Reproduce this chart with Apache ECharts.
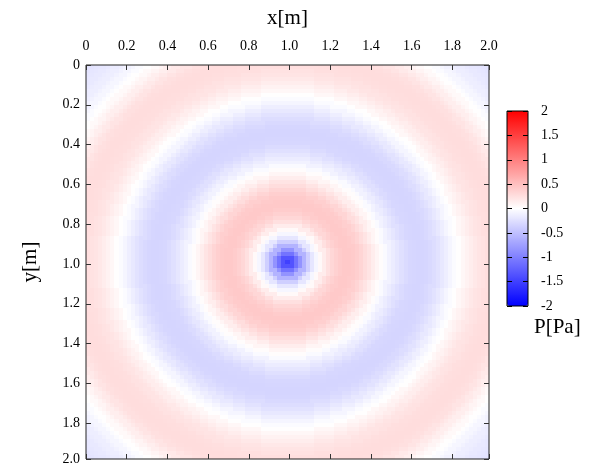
<!DOCTYPE html>
<html>
<head>
  <meta charset="utf-8">
  <title>P[Pa]</title>
  <script src="https://cdn.jsdelivr.net/npm/echarts@6/dist/echarts.min.js"></script>
  <style>
    html, body { margin: 0; padding: 0; background: #fff; }
  </style>
</head>
<body>
  <div id="main" style="width: 596px; height: 466px;"></div>

  <script>
    // tick labels (the last one sits on the edge of the field, 1.98 m)
    const xTicks = ['0', '0.2', '0.4', '0.6', '0.8', '1.0', '1.2', '1.4', '1.6', '1.8', '2.0'];
    const yTicks = ['0', '0.2', '0.4', '0.6', '0.8', '1.0', '1.2', '1.4', '1.6', '1.8', '2.0'];
    const cbTicks = ['-2', '-1.5', '-1', '-0.5', '0', '0.5', '1', '1.5', '2'];

    // grid of the field: cells 0.02 m wide, 0 .. 1.98 m
    const cellSize = 0.02;
    const cellCount = 99;
    const source = [0.99, 0.99];

    const radius = [
      0.00, 0.02, 0.04, 0.06, 0.08, 0.10, 0.12, 0.14, 0.16, 0.18,
      0.20, 0.22, 0.24, 0.26, 0.28, 0.30, 0.32, 0.34, 0.36, 0.38,
      0.40, 0.42, 0.44, 0.46, 0.48, 0.50, 0.52, 0.54, 0.56, 0.58,
      0.60, 0.62, 0.64, 0.66, 0.68, 0.70, 0.72, 0.74, 0.76, 0.78,
      0.80, 0.82, 0.84, 0.86, 0.88, 0.90, 0.92, 0.94, 0.96, 0.98,
      1.00, 1.02, 1.04, 1.06, 1.08, 1.10, 1.12, 1.14, 1.16, 1.18,
      1.20, 1.22, 1.24, 1.26, 1.28, 1.30, 1.32, 1.34, 1.36, 1.38, 1.40
    ];
    const pressure = [
      -1.50, -1.35, -1.10, -0.85, -0.60, -0.38, -0.20, -0.07, 0.05, 0.15,
      0.24, 0.31, 0.36, 0.40, 0.42, 0.42, 0.41, 0.38, 0.33, 0.27,
      0.21, 0.14, 0.08, 0.02, -0.04, -0.10, -0.15, -0.20, -0.24, -0.28,
      -0.31, -0.32, -0.33, -0.33, -0.32, -0.30, -0.27, -0.23, -0.18, -0.13,
      -0.08, -0.03, 0.01, 0.06, 0.10, 0.14, 0.18, 0.21, 0.23, 0.25,
      0.26, 0.27, 0.27, 0.26, 0.24, 0.21, 0.17, 0.13, 0.09, 0.05,
      0.01, -0.03, -0.07, -0.10, -0.13, -0.15, -0.17, -0.19, -0.20, -0.21, -0.21
    ];

    function pressureAt(r) {
      // nearest value of the read profile
      let best = 0;
      for (let k = 1; k < radius.length; k++) {
        if (Math.abs(radius[k] - r) < Math.abs(radius[best] - r)) best = k;
      }
      return pressure[best];
    }

    const cells = [];
    for (let i = 0; i < cellCount; i++) {
      for (let j = 0; j < cellCount; j++) {
        const x = i * cellSize, y = j * cellSize;
        const dx = x + cellSize / 2 - source[0];
        const dy = y + cellSize / 2 - source[1];
        cells.push([x, y, pressureAt(Math.sqrt(dx * dx + dy * dy))]);
      }
    }

    const font = '"Liberation Serif", "DejaVu Serif", serif';
    const plotMax = cellCount * cellSize;
    const labelStyle = { fontSize: 14, color: '#000', fontFamily: font };
    const nameStyle = { fontSize: 21, color: '#000', fontFamily: font };

    const fieldAxis = (pos, labels, margin, extra) => Object.assign({
      type: 'value', gridIndex: 0, position: pos, min: 0, max: plotMax, interval: 0.2,
      axisLine: { show: false, onZero: false }, splitLine: { show: false },
      axisLabel: labels ? Object.assign({ margin: margin, formatter: (v, i) => labels[i] }, labelStyle) : { show: false },
      axisTick: { show: true, inside: true, length: 5, lineStyle: { color: '#333' } },
      z: 10
    }, extra || {});

    const chart = echarts.init(document.getElementById('main'));
    const option = {
      animation: false,
      textStyle: { fontFamily: font },
      grid: [
        { left: 86, top: 65, width: 403, height: 394, outerBoundsMode: 'none', show: true, borderColor: '#222', borderWidth: 1, backgroundColor: 'transparent', z: 10 },
        { left: 507, top: 111, width: 21, height: 195, outerBoundsMode: 'none', show: true, borderColor: '#000', borderWidth: 1, backgroundColor: 'transparent', z: 10 }
      ],
      xAxis: [
        fieldAxis('bottom', null),
        fieldAxis('top', xTicks, 12, {
          name: 'x[m]', nameLocation: 'middle', nameGap: 36, nameTextStyle: nameStyle
        }),
        { type: 'value', gridIndex: 1, show: false, min: 0, max: 1, axisLine: { onZero: false } }
      ],
      yAxis: [
        fieldAxis('left', yTicks, 6, {
          inverse: true, name: 'y[m]', nameLocation: 'middle', nameGap: 45, nameRotate: 90, nameTextStyle: nameStyle
        }),
        fieldAxis('right', null, 0, { inverse: true }),
        {
          type: 'value', gridIndex: 1, position: 'left', min: -2, max: 2, interval: 0.5,
          axisLine: { show: false, onZero: false }, splitLine: { show: false }, axisLabel: { show: false },
          axisTick: { show: true, inside: true, length: 5, lineStyle: { color: '#000' } }, z: 10
        },
        {
          type: 'value', gridIndex: 1, position: 'right', min: -2, max: 2, interval: 0.5,
          axisLine: { show: false, onZero: false }, splitLine: { show: false },
          axisTick: { show: true, inside: true, length: 5, lineStyle: { color: '#000' } },
          axisLabel: Object.assign({ margin: 13, formatter: (v, i) => cbTicks[i] }, labelStyle),
          z: 10
        }
      ],
      visualMap: {
        type: 'continuous', seriesIndex: 0, dimension: 2, min: -2, max: 2,
        calculable: false, showLabel: false, text: null,
        left: 507, top: 111, itemWidth: 21, itemHeight: 195, padding: 0,
        inRange: { color: ['#0000ff', '#ffffff', '#ff0000'] }
      },
      graphic: [
        { type: 'text', left: 534, top: 317, style: { text: 'P[Pa]', fontSize: 21, fontFamily: font, fill: '#000' } }
      ],
      series: [{
        type: 'custom',
        xAxisIndex: 0, yAxisIndex: 0,
        encode: { x: 0, y: 1 },
        clip: true,
        data: cells,
        renderItem: (params, api) => {
          const p1 = api.coord([api.value(0), api.value(1)]);
          const p2 = api.coord([api.value(0) + cellSize, api.value(1) + cellSize]);
          const x = Math.round(Math.min(p1[0], p2[0]));
          const y = Math.round(Math.min(p1[1], p2[1]));
          return {
            type: 'rect',
            shape: { x: x, y: y, width: Math.round(Math.max(p1[0], p2[0])) - x, height: Math.round(Math.max(p1[1], p2[1])) - y },
            style: { fill: api.visual('color') }
          };
        }
      }]
    };
    chart.setOption(option);
  </script>
</body>
</html>
